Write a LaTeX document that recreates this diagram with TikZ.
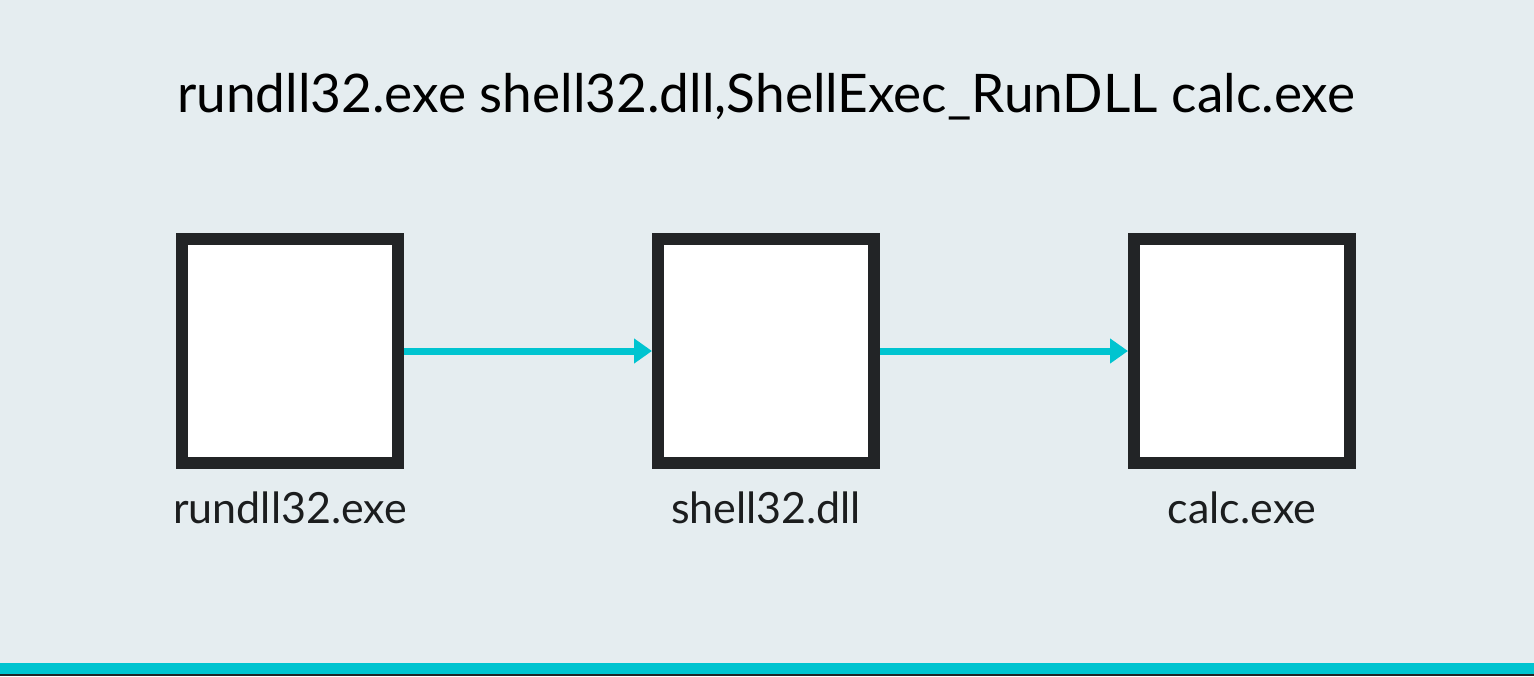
\documentclass[tikz,border=0pt]{standalone}
\usepackage{fontspec}
\setmainfont{Lato}
\usetikzlibrary{positioning,arrows.meta}

\definecolor{bgcol}{HTML}{E5EDF0}
\definecolor{linkcol}{HTML}{00C4D0}
\definecolor{darkcol}{HTML}{222426}

\begin{document}
\begin{tikzpicture}[
            x=1pt, y=1pt,
            node distance=124pt,
            box/.style={
                draw=darkcol,
                fill=white,
                line width=6pt,
                minimum width=108pt,
                minimum height=112pt
            },
            caption/.style={
                inner sep=0pt,
                font=\fontsize{21.5pt}{25pt}\selectfont,
                text=darkcol!80!black
            },
            arrow/.style={-{Triangle[length=9pt,width=12pt]}, draw=linkcol, line width=3.5pt}
        ]
        \fill[bgcol] (0,0) rectangle (767,338);
        \useasboundingbox (0,0) rectangle (767,338);
        \fill[linkcol] (0,1) rectangle (767,6.5);
        \fill[darkcol] (0,0) rectangle (767,1);

        \node[font=\fontsize{26.6pt}{30pt}\selectfont, text=black] (title) at (383,289.5)
            {rundll32.exe shell32.dll,ShellExec\_RunDLL calc.exe};

        \node[box] (rundll) at (145,162.5) {};
        \node[box, right=of rundll] (shell) {};
        \node[box, right=of shell] (calc) {};

        \node[caption, below=11pt of rundll] (rundlltext) {rundll32.exe};
        \node[caption, below=11pt of shell] (shelltext) {shell32.dll};
        \node[caption, below=11pt of calc] (calctext) {calc.exe};

        \draw[arrow] (rundll) -- (shell);
        \draw[arrow] (shell) -- (calc);
        \end{tikzpicture}
\end{document}
